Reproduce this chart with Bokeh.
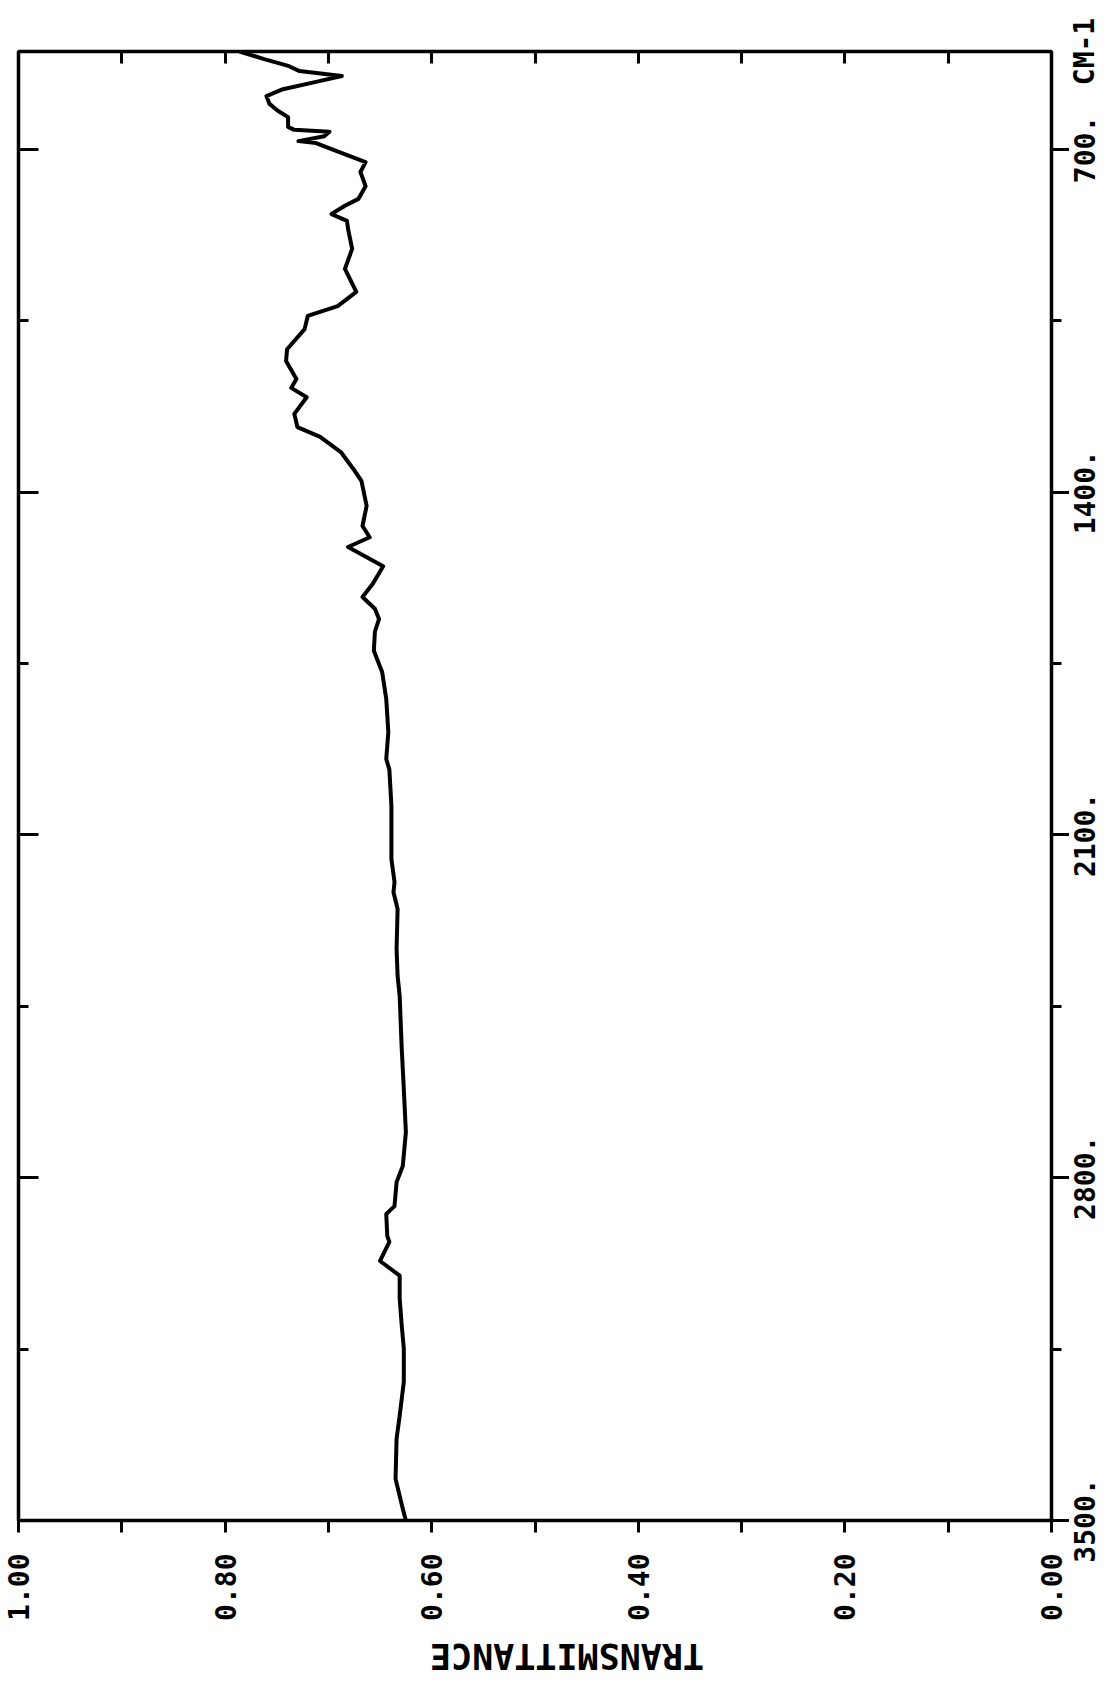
import math
from bokeh.plotting import figure
from bokeh.layouts import column, row
from bokeh.models import (Range1d, LinearAxis, FixedTicker, NumeralTickFormatter,
                          Label, ColumnDataSource, CustomJSTickFormatter)
from bokeh.embed import file_html
from bokeh.resources import INLINE

# ---- data (wavenumber in cm-1, transmittance) ----
WAVENUMBER = [500, 515, 530, 540, 550, 562, 577, 591, 607, 621, 634, 654, 660, 664,
              673, 683, 687, 705, 726, 746, 775, 801, 815, 832, 846, 862, 903, 944,
              991, 1020, 1040, 1067, 1108, 1132, 1169, 1187, 1206, 1240, 1267, 1287,
              1318, 1352, 1377, 1428, 1469, 1492, 1512, 1551, 1587, 1614, 1638, 1659,
              1685, 1724, 1767, 1822, 1890, 1945, 1966, 2041, 2149, 2196, 2217, 2251,
              2333, 2388, 2429, 2537, 2619, 2707, 2776, 2809, 2858, 2874, 2919, 2931,
              2970, 3000, 3047, 3102, 3149, 3217, 3286, 3333, 3415, 3476, 3500]
TRANSMITTANCE = [0.786, 0.763, 0.738, 0.728, 0.687, 0.712, 0.744, 0.760, 0.757, 0.749,
                 0.739, 0.739, 0.733, 0.699, 0.704, 0.729, 0.712, 0.690, 0.664, 0.669,
                 0.664, 0.671, 0.684, 0.697, 0.682, 0.681, 0.677, 0.684, 0.673, 0.691,
                 0.720, 0.723, 0.740, 0.741, 0.731, 0.736, 0.721, 0.733, 0.730, 0.708,
                 0.688, 0.676, 0.668, 0.663, 0.667, 0.660, 0.681, 0.647, 0.657, 0.667,
                 0.655, 0.651, 0.655, 0.656, 0.648, 0.644, 0.642, 0.644, 0.641, 0.639,
                 0.639, 0.636, 0.637, 0.633, 0.634, 0.633, 0.631, 0.629, 0.627, 0.625,
                 0.628, 0.634, 0.636, 0.644, 0.643, 0.641, 0.650, 0.631, 0.631, 0.629,
                 0.627, 0.627, 0.631, 0.634, 0.635, 0.628, 0.625]

WN_START, WN_END = 3500, 500
T_LEFT, T_RIGHT = 1.0, 0.0
T_MAJOR = [0.0, 0.2, 0.4, 0.6, 0.8, 1.0]
T_MINOR = [0.1, 0.3, 0.5, 0.7, 0.9]
WN_MAJOR = [700, 1400, 2100, 2800, 3500]
WN_MINOR = [1050, 1750, 2450, 3150]
WN_LABELS = {700: "700.", 1400: "1400.", 2100: "2100.", 2800: "2800.", 3500: "3500."}
UNIT_LABEL = "CM-1"
AXIS_TITLE = "TRANSMITTANCE"

# ---- layout (pixels) ----
FONT = "DejaVu Sans Mono"
FRAME_LEFT, FRAME_TOP = 18, 51
FRAME_W, FRAME_H = 1033, 1469
RIGHT_BORDER, BOTTOM_BORDER = 18, 112
P_W = FRAME_LEFT + FRAME_W + RIGHT_BORDER
P_H = FRAME_TOP + FRAME_H + BOTTOM_BORDER
R_W = 1105 - P_W
B_H = 1684 - P_H

source = ColumnDataSource(data=dict(wn=WAVENUMBER, t=TRANSMITTANCE))

p = figure(width=P_W, height=P_H, output_backend="svg", toolbar_location=None,
           x_range=Range1d(T_LEFT, T_RIGHT), y_range=Range1d(WN_START, WN_END),
           x_axis_location=None, y_axis_location=None,
           min_border_left=FRAME_LEFT, min_border_right=RIGHT_BORDER,
           min_border_top=FRAME_TOP, min_border_bottom=BOTTOM_BORDER)
p.grid.visible = False
p.outline_line_color = "black"
p.outline_line_width = 3.5
p.background_fill_color = "white"
p.border_fill_color = "white"

blank = CustomJSTickFormatter(code="return ''")


def style(ax):
    ax.axis_line_color = None
    ax.major_tick_line_color = "black"
    ax.minor_tick_line_color = "black"
    ax.major_tick_line_width = 3
    ax.minor_tick_line_width = 3
    ax.major_label_text_font = FONT
    ax.major_label_text_font_style = "bold"
    ax.major_label_text_color = "black"


# bottom: transmittance labels
xb = LinearAxis(ticker=FixedTicker(ticks=T_MAJOR, minor_ticks=T_MINOR),
                formatter=NumeralTickFormatter(format="0.00"),
                major_tick_in=0, major_tick_out=12, minor_tick_in=0, minor_tick_out=12,
                major_label_orientation=math.pi / 2, major_label_standoff=21)
style(xb)
xb.major_label_text_font_size = "28px"
p.add_layout(xb, "below")

# top: inward ticks only
xt = LinearAxis(ticker=FixedTicker(ticks=T_MAJOR, minor_ticks=T_MINOR), formatter=blank,
                major_tick_in=12, major_tick_out=0, minor_tick_in=12, minor_tick_out=0,
                major_label_standoff=0)
style(xt)
xt.major_label_text_font_size = "0px"
p.add_layout(xt, "above")

# left: inward ticks only
yl = LinearAxis(ticker=FixedTicker(ticks=WN_MAJOR, minor_ticks=WN_MINOR), formatter=blank,
                major_tick_in=20, major_tick_out=0, minor_tick_in=10, minor_tick_out=0,
                major_label_standoff=0)
style(yl)
yl.major_label_text_font_size = "0px"
p.add_layout(yl, "left")

# right: outward ticks (labels drawn in the strip beside)
yr = LinearAxis(ticker=FixedTicker(ticks=WN_MAJOR, minor_ticks=WN_MINOR), formatter=blank,
                major_tick_in=0, major_tick_out=18, minor_tick_in=0, minor_tick_out=10,
                major_label_standoff=0)
style(yr)
yr.major_label_text_font_size = "0px"
p.add_layout(yr, "right")

p.line(x="t", y="wn", source=source, line_color="black", line_width=4,
       line_join="round")

# ---- right strip: wavenumber labels, same vertical scale as the main frame ----
r = figure(width=R_W, height=P_H, output_backend="svg", toolbar_location=None,
           x_axis_location=None, y_axis_location=None, min_border=0)
can_unalign = "frame_align" in r.properties()
if can_unalign:
    r.frame_align = False
    k = (WN_START - WN_END) / FRAME_H
    r.y_range = Range1d(WN_START + BOTTOM_BORDER * k, WN_END - FRAME_TOP * k)
else:
    r.y_range = p.y_range
r.x_range = Range1d(0, 1)
r.grid.visible = False
r.outline_line_color = None
for wn in WN_MAJOR:
    r.add_layout(Label(x=0, y=wn, x_offset=15, text=WN_LABELS[wn], angle=math.pi / 2,
                       text_align="center", text_baseline="middle", text_font=FONT,
                       text_font_style="bold", text_font_size="28px", text_color="black"))
r.add_layout(Label(x=0, y=WN_END, x_offset=15, text=UNIT_LABEL, angle=math.pi / 2,
                   text_align="center", text_baseline="middle", text_font=FONT,
                   text_font_style="bold", text_font_size="28px", text_color="black"))

# ---- bottom strip: axis title (upside down, as in the scanned chart) ----
b = figure(width=P_W + R_W, height=B_H, output_backend="svg", toolbar_location=None,
           x_range=Range1d(0, 1), y_range=Range1d(0, 1),
           x_axis_location=None, y_axis_location=None, min_border=0)
if "frame_align" in b.properties():
    b.frame_align = False
b.grid.visible = False
b.outline_line_color = None
b.add_layout(Label(x=0.5, y=0.5, x_offset=14, y_offset=3, text=AXIS_TITLE, angle=math.pi,
                   text_align="center", text_baseline="middle", text_font=FONT,
                   text_font_style="bold", text_font_size="35px", text_color="black"))

layout = column(row(p, r), b)
open("out.html", "w").write(file_html(layout, INLINE))
